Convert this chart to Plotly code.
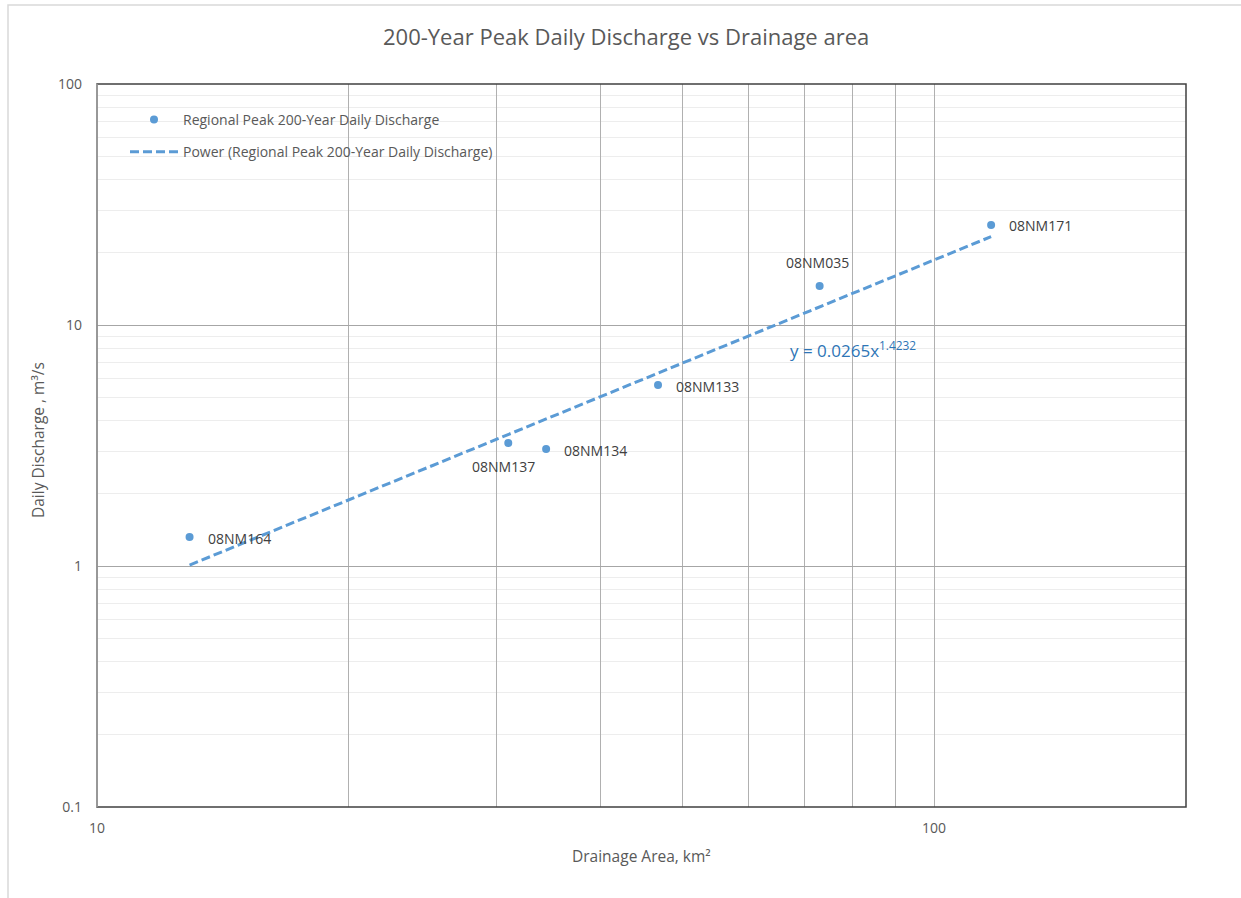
import numpy as np
import plotly.graph_objects as go

# Station data: drainage area (km²) and 200-year peak daily discharge (m³/s)
stations = ["08NM164", "08NM137", "08NM134", "08NM133", "08NM035", "08NM171"]
area_km2 = [12.9, 31.0, 34.4, 46.8, 73.0, 117.0]
discharge_m3s = [1.32, 3.24, 3.06, 5.64, 14.5, 26.0]

# Power trendline y = a * x^b
coef_a = 0.0265
exp_b = 1.4232

# Axis tick values / labels
x_ticks = [10, 20, 30, 40, 50, 60, 70, 80, 90, 100, 200]
x_ticktext = ["10", "", "", "", "", "", "", "", "", "100", ""]
y_major = [0.1, 1, 10, 100]
y_major_text = ["0.1", "1", "10", "100"]

# Label placement per station (anchor, pixel shifts)
label_pos = [
    ("left", "middle", 16, -2),
    ("center", "top", -5, -12),
    ("left", "middle", 16, -2),
    ("left", "middle", 16, -2),
    ("center", "bottom", -2, 12),
    ("left", "middle", 16, -1),
]

BLUE = "#5B9BD5"
GRAY_TXT = "#595959"
FONT = "Open Sans"

L, R, T, B = 97, 55, 84, 91
W, H = 1241, 898
pw, ph = W - L - R, H - T - B


def px_x(p):
    return (p - L) / pw


def px_y(p):
    return (H - B - p) / ph


fig = go.Figure()

fig.add_trace(go.Scatter(
    x=area_km2, y=discharge_m3s, mode="markers",
    name="Regional Peak 200-Year Daily Discharge",
    marker=dict(color=BLUE, size=8),
    legendgroup="a",
))

trend_x = np.array([min(area_km2), max(area_km2)])
trend_y = coef_a * trend_x ** exp_b
fig.add_trace(go.Scatter(
    x=trend_x, y=trend_y, mode="lines",
    name="Power (Regional Peak 200-Year Daily Discharge)",
    line=dict(color=BLUE, width=3, dash="9px,4px"),
    legendgroup="b",
))

annotations = []
for name, x, y, (xa, ya, dx, dy) in zip(stations, area_km2, discharge_m3s, label_pos):
    annotations.append(dict(
        x=np.log10(x), y=np.log10(y), xref="x", yref="y", text=name,
        showarrow=False, xanchor=xa, yanchor=ya, xshift=dx, yshift=dy,
        font=dict(family=FONT, size=14, color="#404040"),
    ))

# Trendline equation
annotations.append(dict(
    x=np.log10(66.9), y=np.log10(7.95), xref="x", yref="y",
    text=f"y = {coef_a}x<sup>{exp_b}</sup>", showarrow=False,
    xanchor="left", yanchor="middle",
    font=dict(family=FONT, size=17, color="#2E75B6"),
))

# Chart title
annotations.append(dict(
    x=px_x(626), y=px_y(36), xref="paper", yref="paper",
    xanchor="center", yanchor="middle",
    text="200-Year Peak Daily Discharge vs Drainage area", showarrow=False,
    font=dict(family=FONT, size=22, color=GRAY_TXT),
))

# Axis titles
annotations.append(dict(
    x=px_x(641), y=px_y(856), xref="paper", yref="paper",
    xanchor="center", yanchor="middle",
    text="Drainage Area, km²", showarrow=False,
    font=dict(family=FONT, size=15.5, color=GRAY_TXT),
))
annotations.append(dict(
    x=px_x(38), y=px_y(440), xref="paper", yref="paper", textangle=-90,
    xanchor="center", yanchor="middle",
    text="Daily Discharge , m³/s", showarrow=False,
    font=dict(family=FONT, size=15.5, color=GRAY_TXT),
))

shapes = [
    # outer chart border
    dict(type="rect", xref="paper", yref="paper",
         x0=px_x(8), x1=px_x(1250), y0=px_y(905), y1=px_y(5),
         line=dict(color="#D9D9D9", width=1.5), layer="below"),
    # plot area border
    dict(type="rect", xref="paper", yref="paper", x0=0, x1=1, y0=0, y1=1,
         line=dict(color="#404040", width=1.5), layer="above"),
    dict(type="line", xref="paper", yref="paper", x0=0, x1=0, y0=0, y1=1,
         line=dict(color="#A6A6A6", width=1.5), layer="above"),
]

fig.update_layout(
    width=W, height=H,
    margin=dict(l=L, r=R, t=T, b=B),
    paper_bgcolor="white", plot_bgcolor="white",
    font=dict(family=FONT, color=GRAY_TXT),
    showlegend=True,
    legend=dict(
        x=px_x(125), y=px_y(104), xanchor="left", yanchor="top",
        bgcolor="rgba(255,255,255,0)", tracegroupgap=11, itemwidth=48,
        font=dict(family=FONT, size=14, color=GRAY_TXT),
    ),
    annotations=annotations,
    shapes=shapes,
    xaxis=dict(
        type="log", range=[1, np.log10(200)],
        tickmode="array", tickvals=x_ticks, ticktext=x_ticktext,
        showgrid=True, gridcolor="#B0B0B0", gridwidth=1,
        ticks="", ticklabelstandoff=11,
        tickfont=dict(family=FONT, size=14, color=GRAY_TXT),
        zeroline=False, showline=False,
    ),
    yaxis=dict(
        type="log", range=[-1, 2],
        tickmode="array", tickvals=y_major, ticktext=y_major_text,
        showgrid=True, gridcolor="#A6A6A6", gridwidth=1,
        minor=dict(showgrid=True, dtick="D1", gridcolor="#EDEDED", gridwidth=1),
        ticks="", ticklabelstandoff=14,
        tickfont=dict(family=FONT, size=14, color=GRAY_TXT),
        zeroline=False, showline=False,
    ),
)

fig.write_html("out.html")
